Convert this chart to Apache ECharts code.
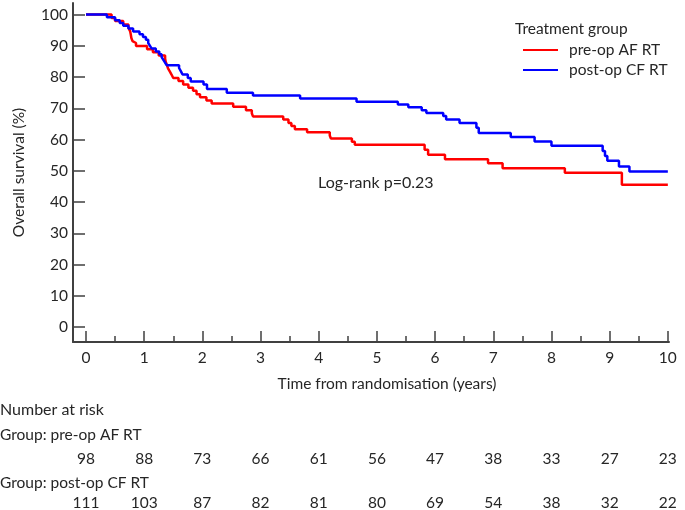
<!DOCTYPE html>
<html><head><meta charset="utf-8">
<script src="https://cdn.jsdelivr.net/npm/echarts@6/dist/echarts.min.js"></script>
<style>html,body{margin:0;padding:0;background:#fff}#c{width:685px;height:510px}</style>
</head><body><div id="c"></div>
<script>
// Kaplan–Meier step points [years, survival %]
var preOpAF = [[0,100],[0.44,98.9],[0.50,97.9],[0.64,96.8],[0.73,95.7],[0.76,94.6],[0.77,93.6],[0.78,92.5],[0.80,91.5],[0.82,90.9],[0.86,89.9],[1.05,88.9],[1.15,87.9],[1.25,86.9],[1.36,85.9],[1.37,84.9],[1.39,83.9],[1.41,82.8],[1.44,81.8],[1.47,80.8],[1.50,79.7],[1.59,78.7],[1.67,77.6],[1.76,76.6],[1.84,75.6],[1.90,74.5],[1.96,73.5],[2.07,72.5],[2.16,71.5],[2.53,70.5],[2.75,69.4],[2.85,68.4],[2.87,67.4],[3.39,66.4],[3.48,65.3],[3.53,64.3],[3.59,63.3],[3.80,62.3],[4.19,61.3],[4.21,60.3],[4.57,59.3],[4.62,58.3],[5.82,56.7],[5.88,55.1],[6.17,53.7],[6.91,52.4],[7.16,50.8],[8.23,49.4],[9.21,45.5],[10,45.5]];
var postOpCF = [[0,100],[0.36,99.1],[0.50,98.2],[0.58,97.3],[0.64,96.4],[0.73,95.5],[0.81,94.6],[0.92,93.7],[0.98,92.8],[1.03,91.9],[1.07,90.9],[1.10,90.0],[1.13,89.1],[1.20,88.2],[1.26,87.3],[1.30,86.4],[1.33,85.5],[1.36,84.6],[1.39,83.8],[1.60,82.9],[1.63,81.9],[1.66,80.8],[1.75,79.7],[1.80,78.6],[2.02,77.6],[2.08,76.2],[2.42,75.0],[2.87,74.1],[3.68,73.1],[4.65,72.1],[5.36,71.2],[5.54,70.3],[5.77,69.4],[5.85,68.5],[6.14,67.5],[6.19,66.4],[6.42,65.3],[6.71,63.8],[6.75,62.1],[7.30,60.8],[7.71,59.4],[8.00,58.0],[8.88,56.3],[8.92,54.7],[8.96,53.2],[9.16,51.4],[9.34,49.8],[10,49.8]];
var seriesNames = ['pre-op AF RT','post-op CF RT'];
var xTicks = [0,1,2,3,4,5,6,7,8,9,10];
var xMinorTicks = [0.5,1.5,2.5,3.5,4.5,5.5,6.5,7.5,8.5,9.5];
var yTicks = [0,10,20,30,40,50,60,70,80,90,100];
var atRiskPre = [98,88,73,66,61,56,47,38,33,27,23];
var atRiskPost = [111,103,87,82,81,80,69,54,38,32,22];
var pText = 'Log-rank p=0.23';

var FONT = 'Lato';
var FS = 15.5;
var TXT = '#262626';
var AX = '#404040';
var chart = echarts.init(document.getElementById('c'), null, {renderer:'canvas'});
var G = {left:73,right:16,top:3,bottom:168,containLabel:false};
function tickAxis(vals,len,gi){
  return {
    gridIndex:gi, type:'value', min:-0.223, max:10.02, position:'bottom',
    axisLine:{show:false,onZero:false},
    axisTick:{show:true,inside:true,length:len,customValues:vals,lineStyle:{color:AX,width:1.5}},
    axisLabel:{show:false}, splitLine:{show:false}
  };
}
var option = {
  animation:false,
  textStyle:{fontFamily:FONT},
  grid:[G, Object.assign({},G)],
  legend:{
    data:seriesNames, orient:'vertical', left:518, top:37, itemWidth:35, itemHeight:2, itemGap:4,
    icon:'rect', textStyle:{fontFamily:FONT,fontSize:FS,color:TXT,padding:[0,0,0,6]}, selectedMode:false
  },
  xAxis:[{
    gridIndex:0, type:'value', min:-0.223, max:10.02, position:'bottom',
    axisLine:{show:true,onZero:false,lineStyle:{color:AX,width:2}},
    axisTick:{show:false},
    axisLabel:{customValues:xTicks,fontSize:FS,color:TXT,margin:8,fontFamily:FONT},
    splitLine:{show:false}
  }, tickAxis(xTicks,11,0), tickAxis(xMinorTicks,6,1)],
  yAxis:[{
    gridIndex:0, type:'value', min:-4.8, max:103.7,
    name:'Overall survival (%)', nameLocation:'middle', nameRotate:90, nameGap:46,
    nameTextStyle:{fontFamily:FONT,fontSize:FS,color:TXT},
    axisLine:{show:true,onZero:false,lineStyle:{color:AX,width:2}},
    axisTick:{show:true,inside:true,length:12,customValues:yTicks,lineStyle:{color:AX,width:1.5}},
    axisLabel:{customValues:yTicks,fontSize:FS,color:TXT,margin:5,fontFamily:FONT},
    splitLine:{show:false}
  },{
    gridIndex:1, type:'value', min:-4.8, max:103.7, show:false
  }],
  series:[
    {name:seriesNames[0],type:'line',step:'end',data:preOpAF,showSymbol:false,color:'#ff0000',lineStyle:{width:2.5,color:'#ff0000'}},
    {name:seriesNames[1],type:'line',step:'end',data:postOpCF,showSymbol:false,color:'#0000ff',lineStyle:{width:2.5,color:'#0000ff'}}
  ]
};
chart.setOption(option);

var g = [];
function txt(x,y,s,align,size){
  g.push({type:'text',x:x,y:y,style:{text:s,fill:TXT,font:(size||FS)+'px '+FONT,textAlign:align||'left',textVerticalAlign:'middle'}});
}
txt(515,29,'Treatment group','left');
txt(318,183,pText,'left',16);
txt(387,384,'Time from randomisation (years)','center');
txt(0,410,'Number at risk','left',16);
txt(0,435,'Group: pre-op AF RT','left');
txt(0,483,'Group: post-op CF RT','left');
for (var i=0;i<xTicks.length;i++){
  var px = chart.convertToPixel({xAxisIndex:0}, xTicks[i]);
  txt(px,459,String(atRiskPre[i]),'center');
  txt(px,503,String(atRiskPost[i]),'center');
}
chart.setOption({graphic:g});
</script></body></html>
